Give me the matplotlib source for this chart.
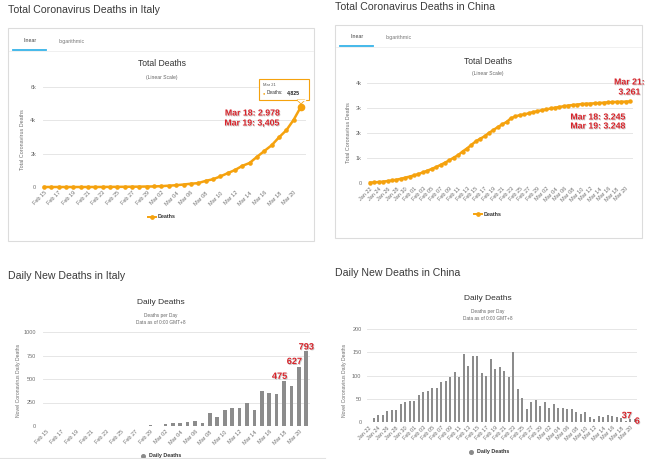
import matplotlib
matplotlib.use("Agg")
import matplotlib.pyplot as plt
from matplotlib.patches import Rectangle, Polygon
from matplotlib.lines import Line2D
import matplotlib.patheffects as pe

plt.rcParams['font.family'] = ['Liberation Sans', 'DejaVu Sans']

# ---------------- data ----------------
italy_tick_labels = ["Feb 15", "Feb 17", "Feb 19", "Feb 21", "Feb 23", "Feb 25", "Feb 27", "Feb 29",
                     "Mar 02", "Mar 04", "Mar 06", "Mar 08", "Mar 10", "Mar 12", "Mar 14", "Mar 16",
                     "Mar 18", "Mar 20"]
china_tick_labels = ["Jan 22", "Jan 24", "Jan 26", "Jan 28", "Jan 30", "Feb 01", "Feb 03", "Feb 05",
                     "Feb 07", "Feb 09", "Feb 11", "Feb 13", "Feb 15", "Feb 17", "Feb 19", "Feb 21",
                     "Feb 23", "Feb 25", "Feb 27", "Feb 29", "Mar 02", "Mar 04", "Mar 06", "Mar 08",
                     "Mar 10", "Mar 12", "Mar 14", "Mar 16", "Mar 18", "Mar 20"]

# Feb 15 .. Mar 21
italy_total = [0, 0, 0, 0, 0, 0, 1, 2, 3, 7, 10, 12, 17, 21, 29,
               34, 52, 79, 107, 148, 197, 233, 366, 463, 631, 827, 1016, 1266, 1441,
               1809, 2158, 2503, 2978, 3405, 4032, 4825]
italy_daily = [0, 0, 0, 0, 0, 0, 1, 1, 1, 4, 3, 2, 5, 4, 8,
               5, 18, 27, 28, 41, 49, 36, 133, 97, 168, 196, 189, 250, 175,
               368, 349, 345, 475, 427, 627, 793]

# Jan 22 .. Mar 21
china_total = [17, 24, 40, 55, 79, 105, 131, 169, 212, 258,
               303, 360, 424, 490, 563, 636, 722, 811, 908, 1016, 1113, 1259, 1380, 1523, 1665,
               1770, 1868, 2004, 2118, 2236, 2345, 2442, 2592, 2663, 2715, 2744, 2788, 2835, 2870,
               2912, 2943, 2981, 3012, 3042, 3070, 3097, 3119, 3136, 3158, 3169, 3176, 3189, 3199,
               3213, 3226, 3237, 3245, 3248, 3255, 3261]
china_daily = [0, 8, 16, 15, 24, 26, 26, 38, 43, 46,
               45, 57, 64, 66, 73, 73, 86, 89, 97, 108, 97, 146, 121, 143, 142, 105, 98, 136, 114,
               118, 109, 97, 150, 71, 52, 29, 44, 47, 35,
               42, 31, 38, 31, 30, 28, 27, 22, 17, 22, 11, 7, 13, 10, 14, 13, 11, 8, 3, 7, 6]

# ---------------- helpers ----------------
W, H = 650, 459
fig = plt.figure(figsize=(6.5, 4.59), dpi=100)
fig.patch.set_facecolor('white')

ORANGE = '#f5a20e'
BAR = '#8c8c8c'
GRID = '#e6e6e6'
TICKC = '#6e6e6e'
RED = '#d8232a'


def add_ax(x0, y0, x1, y1):
    ax = fig.add_axes([x0 / W, 1 - y1 / H, (x1 - x0) / W, (y1 - y0) / H])
    ax.set_facecolor('none')
    for s in ax.spines.values():
        s.set_visible(False)
    ax.grid(axis='y', color=GRID, lw=0.7)
    ax.set_axisbelow(True)
    ax.tick_params(axis='both', length=0, labelsize=4, colors=TICKC)
    ax.tick_params(axis='y', pad=5)
    ax.tick_params(axis='x', pad=2.5)
    return ax


def ftext(x, y, s, **kw):
    kw.setdefault('va', 'center')
    return fig.text(x / W, 1 - y / H, s, **kw)


def card(x0, y0, x1, y1):
    fig.patches.append(Rectangle((x0 / W, 1 - y1 / H), (x1 - x0) / W, (y1 - y0) / H,
                                 transform=fig.transFigure, fill=False, ec='#dcdcdc', lw=0.8))


def hline(x0, x1, y, color, lw):
    fig.add_artist(Line2D([x0 / W, x1 / W], [1 - y / H, 1 - y / H], color=color, lw=lw,
                          transform=fig.transFigure))


def xlabels(ax, positions, labels):
    ax.set_xticks(positions)
    ax.set_xticklabels(labels, rotation=45, ha='right', va='top', rotation_mode='anchor')


shadow = [pe.withSimplePatchShadow(offset=(0.6, -0.6), shadow_rgbFace='#888888', alpha=0.45)]

# ================= Panel 1: Italy total =================
ftext(8, 10, "Total Coronavirus Deaths in Italy", fontsize=7.6, color='#3a3a3a', ha='left')
card(8, 28, 314, 241)
hline(9, 313, 50.5, '#eeeeee', 0.6)
hline(13, 46, 50, '#36b3e8', 1.3)
ftext(30, 41, "linear", fontsize=3.8, color='#444444', ha='center')
ftext(72, 41, "logarithmic", fontsize=3.8, color='#777777', ha='center')
ftext(162, 64, "Total Deaths", fontsize=6.2, color='#333333', ha='center')
ftext(162, 77, "(Linear Scale)", fontsize=3.6, color='#666666', ha='center')
ftext(22, 140, "Total Coronavirus Deaths", fontsize=3.9, color=TICKC, ha='center', rotation=90)

ax1 = add_ax(43, 87, 306, 187)
xi = list(range(len(italy_total)))
ax1.plot(xi, italy_total, color=ORANGE, lw=1.8, marker='o', ms=2.3, clip_on=False, zorder=3)
ax1.plot(xi[-1], italy_total[-1], 'o', color=ORANGE, ms=4.5, clip_on=False, zorder=4)
ax1.set_xlim(-0.136, 35.68)
ax1.set_ylim(0, 6000)
ax1.set_yticks([0, 2000, 4000, 6000])
ax1.set_yticklabels(["0", "2k", "4k", "6k"])
xlabels(ax1, list(range(0, 36, 2)), italy_tick_labels)

# legend
fig.add_artist(Line2D([148 / W, 156 / W], [1 - 217 / H] * 2, color=ORANGE, lw=1.4,
                      transform=fig.transFigure))
fig.add_artist(Line2D([152 / W], [1 - 217 / H], color=ORANGE, marker='o', ms=2.4,
                      transform=fig.transFigure))
ftext(158, 217, "Deaths", fontsize=3.9, color='#333333', ha='left', fontweight='bold')

# tooltip
fig.patches.append(Rectangle((259 / W, 1 - 100 / H), 50 / W, 21 / H, transform=fig.transFigure,
                             fc='white', ec=ORANGE, lw=0.8, zorder=5))
fig.patches.append(Polygon([(297 / W, 1 - 100 / H), (305 / W, 1 - 100 / H), (301 / W, 1 - 104 / H)],
                           closed=True, transform=fig.transFigure, fc='white', ec=ORANGE, lw=0.6,
                           zorder=5))
fig.add_artist(Line2D([297.5 / W, 304.5 / W], [1 - 100 / H] * 2, color='white', lw=0.9,
                      transform=fig.transFigure, zorder=6))
ftext(263, 85, "Mar 21", fontsize=2.9, color='#555555', ha='left', zorder=7)
ftext(262.5, 93, "\u25cf", fontsize=2.8, color=ORANGE, ha='left', zorder=7)
ftext(267, 93, "Deaths:", fontsize=3.4, color='#333333', ha='left', zorder=7)
ftext(286.5, 93, "4,825", fontsize=3.7, color='#222222', ha='left', fontweight='bold', zorder=7)

ftext(252.5, 113, "Mar 18: 2.978", fontsize=6.3, color=RED, ha='center', fontweight='bold',
      path_effects=shadow)
ftext(252, 123, "Mar 19: 3,405", fontsize=6.3, color=RED, ha='center', fontweight='bold',
      path_effects=shadow)

# ================= Panel 2: China total =================
ftext(335, 7, "Total Coronavirus Deaths in China", fontsize=7.6, color='#3a3a3a', ha='left')
card(335, 25, 642, 238)
hline(336, 641, 46.5, '#eeeeee', 0.6)
hline(340, 373, 46, '#36b3e8', 1.3)
ftext(357, 37, "linear", fontsize=3.8, color='#444444', ha='center')
ftext(399, 37, "logarithmic", fontsize=3.8, color='#777777', ha='center')
ftext(488, 61, "Total Deaths", fontsize=6.2, color='#333333', ha='center')
ftext(488, 74, "(Linear Scale)", fontsize=3.6, color='#666666', ha='center')
ftext(349, 133, "Total Coronavirus Deaths", fontsize=3.9, color=TICKC, ha='center', rotation=90)

ax2 = add_ax(367, 83, 633, 183)
xc = list(range(len(china_total)))
ax2.plot(xc, china_total, color=ORANGE, lw=1.8, marker='o', ms=2.2, clip_on=False, zorder=3)
ax2.set_xlim(-0.68, 59.68)
ax2.set_ylim(0, 4000)
ax2.set_yticks([0, 1000, 2000, 3000, 4000])
ax2.set_yticklabels(["0", "1k", "2k", "3k", "4k"])
ax2.tick_params(axis='y', pad=4)
xlabels(ax2, list(range(0, 60, 2)), china_tick_labels)

fig.add_artist(Line2D([474 / W, 482 / W], [1 - 214 / H] * 2, color=ORANGE, lw=1.4,
                      transform=fig.transFigure))
fig.add_artist(Line2D([478 / W], [1 - 214 / H], color=ORANGE, marker='o', ms=2.4,
                      transform=fig.transFigure))
ftext(484, 214, "Deaths", fontsize=3.9, color='#333333', ha='left', fontweight='bold')

ftext(629.5, 82, "Mar 21:", fontsize=6.3, color=RED, ha='center', fontweight='bold',
      path_effects=shadow)
ftext(629.5, 92, "3.261", fontsize=6.3, color=RED, ha='center', fontweight='bold',
      path_effects=shadow)
ftext(598, 117, "Mar 18: 3.245", fontsize=6.3, color=RED, ha='center', fontweight='bold',
      path_effects=shadow)
ftext(598, 126, "Mar 19: 3.248", fontsize=6.3, color=RED, ha='center', fontweight='bold',
      path_effects=shadow)

# ================= Panel 3: Italy daily =================
ftext(8, 276, "Daily New Deaths in Italy", fontsize=7.6, color='#3a3a3a', ha='left')
ftext(161, 302, "Daily Deaths", fontsize=6.0, color='#333333', ha='center')
ftext(161, 315, "Deaths per Day", fontsize=3.4, color='#666666', ha='center')
ftext(161, 322, "Data as of 0:00 GMT+8", fontsize=3.4, color='#666666', ha='center')
ftext(19, 380, "Novel Coronavirus Daily Deaths", fontsize=3.7, color=TICKC, ha='center', rotation=90)

ax3 = add_ax(43, 332, 310, 426)
ax3.bar(xi, italy_daily, width=0.5, color=BAR, zorder=3)
ax3.set_xlim(-0.5, 35.5)
ax3.set_ylim(0, 1000)
ax3.set_yticks([0, 250, 500, 750, 1000])
ax3.set_yticklabels(["0", "250", "500", "750", "1000"])
xlabels(ax3, list(range(0, 36, 2)), italy_tick_labels)
for idx, dx, dy in [(32, -4.5, 5), (34, -4.5, 5.5), (35, 0, 4.5)]:
    ax3.annotate(str(italy_daily[idx]), (idx, italy_daily[idx]), xytext=(dx, dy),
                 textcoords='offset pixels', ha='center', va='center', fontsize=6.6,
                 color=RED, fontweight='bold', path_effects=shadow, annotation_clip=False)

fig.add_artist(Line2D([143 / W], [1 - 455.5 / H], color='#8a8a8a', marker='o', ms=2.6,
                      transform=fig.transFigure))
ftext(149, 455.5, "Daily Deaths", fontsize=3.9, color='#333333', ha='left', fontweight='bold')
hline(0, 325, 457.8, '#e2e2e2', 0.8)

# ================= Panel 4: China daily =================
ftext(335, 273, "Daily New Deaths in China", fontsize=7.6, color='#3a3a3a', ha='left')
ftext(488, 298, "Daily Deaths", fontsize=6.0, color='#333333', ha='center')
ftext(488, 312, "Deaths per Day", fontsize=3.4, color='#666666', ha='center')
ftext(488, 318.5, "Data as of 0:00 GMT+8", fontsize=3.4, color='#666666', ha='center')
ftext(344, 380, "Novel Coronavirus Daily Deaths", fontsize=3.7, color=TICKC, ha='center', rotation=90)

ax4 = add_ax(367, 329, 637, 422)
ax4.bar(xc, china_daily, width=0.45, color=BAR, zorder=3)
ax4.set_xlim(-0.5, 59.5)
ax4.set_ylim(0, 200)
ax4.set_yticks([0, 50, 100, 150, 200])
ax4.set_yticklabels(["0", "50", "100", "150", "200"])
ax4.tick_params(axis='y', pad=4)
xlabels(ax4, list(range(0, 60, 2)), china_tick_labels)
for idx, dx, dy in [(57, -1.5, 5), (58, -1, 3), (59, 2.5, -2)]:
    ax4.annotate(str(china_daily[idx]), (idx, china_daily[idx]), xytext=(dx, dy),
                 textcoords='offset pixels', ha='center', va='center', fontsize=6.6,
                 color=RED, fontweight='bold', path_effects=shadow, annotation_clip=False)

fig.add_artist(Line2D([471 / W], [1 - 452 / H], color='#8a8a8a', marker='o', ms=2.6,
                      transform=fig.transFigure))
ftext(477, 452, "Daily Deaths", fontsize=3.9, color='#333333', ha='left', fontweight='bold')

fig.savefig("out.png", dpi=100, facecolor='white')
